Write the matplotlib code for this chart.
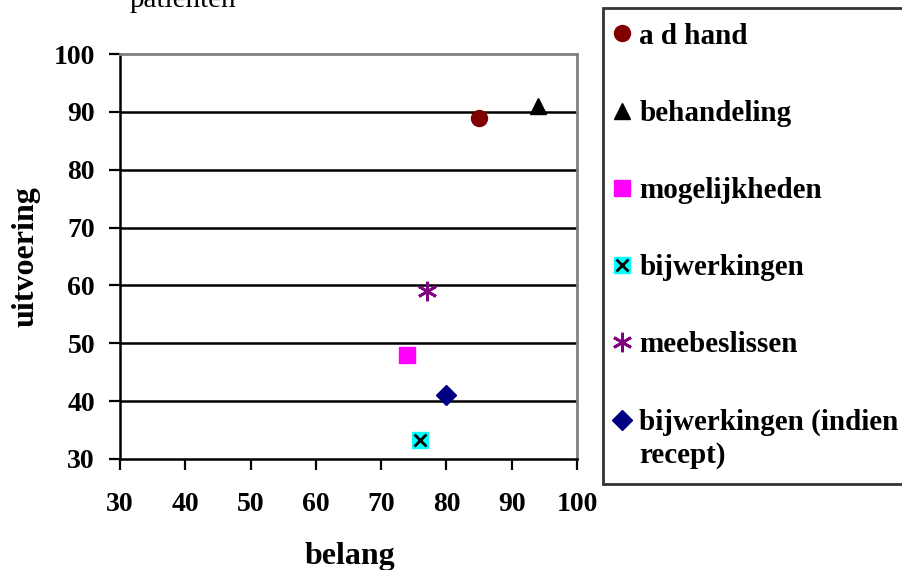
import numpy as np
import matplotlib.pyplot as plt

plt.rcParams["font.family"] = ["Liberation Serif", "DejaVu Serif"]

# waarden uit de grafiek
labels = ["a d hand", "behandeling", "mogelijkheden", "bijwerkingen",
          "meebeslissen", "bijwerkingen (indien\nrecept)"]
belang = [85, 94, 74, 76, 77, 80]
uitvoering = [89, 91, 48, 33.3, 59, 41]
colors = ["#800000", "#000000", "#ff00ff", "#00ffff", "#800080", "#000080"]
markers = ["o", "^", "s", "s", (6, 2, 0), "D"]
sizes = [11.5, 11, 11.5, 12, 14, 10]

ticks = [30, 40, 50, 60, 70, 80, 90, 100]

fig = plt.figure(figsize=(9.02, 5.70), dpi=100)
ax = fig.add_axes([120 / 902, 1 - 459 / 570, 457 / 902, 405 / 570])

for y in ticks[1:-1]:
    ax.axhline(y, color="black", lw=1.8, zorder=1)

handles = []
for i in range(len(labels)):
    h = ax.plot(belang[i], uitvoering[i], linestyle="none", marker=markers[i],
                ms=sizes[i], mew=2 if i == 4 else 1.0,
                color=colors[i], mec=colors[i], zorder=3)[0]
    if i == 3:
        # cyaan vierkant met zwart kruis
        x_h = ax.plot(belang[i], uitvoering[i], linestyle="none", marker="x",
                      ms=9, mew=2, color="black", zorder=4)[0]
        h = (h, x_h)
    handles.append(h)

ax.set_xlim(30, 100)
ax.set_ylim(30, 100)
ax.set_xticks(ticks)
ax.set_yticks(ticks)
ax.tick_params(direction="out", length=8, width=1.6, labelsize=20)
ax.tick_params(axis="x", pad=16)
ax.tick_params(axis="y", pad=10)
for lab in ax.get_xticklabels() + ax.get_yticklabels():
    lab.set_fontweight("bold")

ax.spines["left"].set_linewidth(1.8)
ax.spines["bottom"].set_linewidth(1.8)
ax.spines["top"].set_color("#808080")
ax.spines["right"].set_color("#808080")
ax.spines["top"].set_linewidth(2)
ax.spines["right"].set_linewidth(2)

ax.set_xlabel("belang", fontsize=23, fontweight="bold")
ax.set_ylabel("uitvoering", fontsize=23, fontweight="bold")
ax.xaxis.set_label_coords(0.503, -0.205)
ax.yaxis.set_label_coords(-0.175, 0.5)

fig.text(130 / 902, 1 - 7 / 570, "patienten", fontsize=21, va="baseline")

leg = fig.legend(handles, labels, loc="upper left",
                 bbox_to_anchor=(603 / 902, 96 / 570, 0.4, 466 / 570),
                 mode="expand", borderaxespad=0, fancybox=False,
                 frameon=True, edgecolor="black", handlelength=0.3,
                 handletextpad=0.45, labelspacing=1.72,
                 prop={"size": 21, "weight": "bold"},
                 borderpad=0.5)
leg.get_frame().set_linewidth(2)
for t in leg.get_texts():
    t.set_linespacing(1.3)

# marker van de laatste (tweeregelige) ingang op de eerste regel zetten
for part in np.atleast_1d(leg.legend_handles[-1]):
    part.set_ydata(np.asarray(part.get_ydata()) + 13.5)

fig.savefig("out.png", dpi=100)
